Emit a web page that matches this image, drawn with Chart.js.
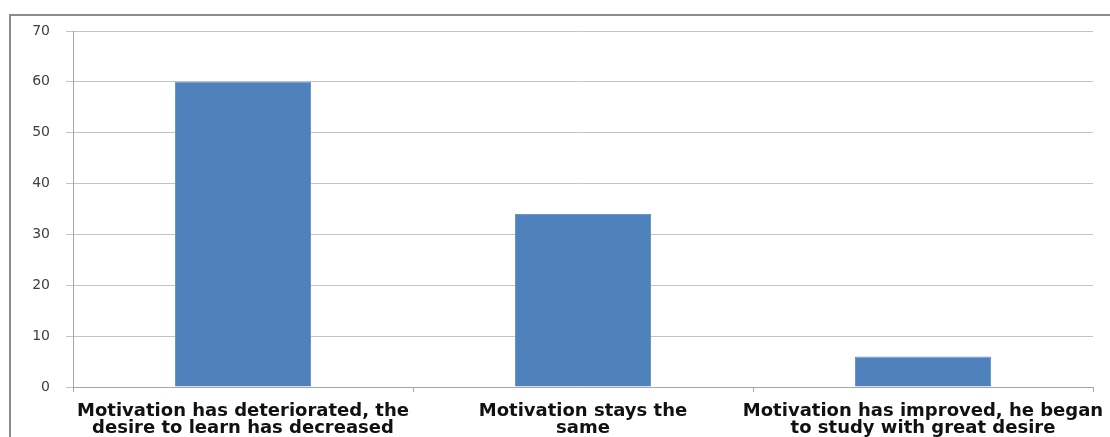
<!DOCTYPE html>
<html>
<head>
<meta charset="utf-8">
<script src="https://cdn.jsdelivr.net/npm/chart.js@4"></script>
<style>
  html, body { margin: 0; padding: 0; background: #fff; }
  #wrap { width: 1110px; height: 437px; position: relative; }
</style>
</head>
<body>
<div id="wrap"><canvas id="motivChart"></canvas></div>
<script>
// Data
const categories = [
    ["Motivation has deteriorated, the", "desire to learn has decreased"],
    ["Motivation stays the", "same"],
    ["Motivation has improved, he began", "to study with great desire"]
];
const values = [60, 34, 6];
const yTicks = [0, 10, 20, 30, 40, 50, 60, 70];

// Outer frame of the chart
const framePlugin = {
    id: "frame",
    beforeDraw(chart){
        const c = chart.ctx;
        c.save();
        c.fillStyle = "#ffffff";
        c.fillRect(0, 0, chart.width, chart.height);
        c.strokeStyle = "#8c8c8c";
        c.lineWidth = 2;
        c.strokeRect(10, 15, chart.width + 20, chart.height + 20);
        c.restore();
    }
};

const ctx = document.getElementById("motivChart");

new Chart(ctx, {
    type: "bar",
    data: {
        labels: categories,
        datasets: [{
            data: values,
            backgroundColor: "#4f81bd",
            borderColor: "#6a95c8",
            borderWidth: 1,
            categoryPercentage: 0.4,
            barPercentage: 1
        }]
    },
    options: {
        responsive: true,
        maintainAspectRatio: false,
        devicePixelRatio: 1,
        animation: false,
        layout: { padding: { top: 31, right: 17, left: 0, bottom: 0 } },
        plugins: {
            legend: { display: false },
            tooltip: { enabled: false }
        },
        scales: {
            x: {
                offset: true,
                grid: {
                    offset: true,
                    drawOnChartArea: false,
                    drawTicks: true,
                    tickLength: 5,
                    color: "#a6a6a6"
                },
                border: { color: "#a6a6a6", width: 1 },
                ticks: {
                    color: "#111111",
                    maxRotation: 0,
                    autoSkip: false,
                    padding: 11,
                    font: { family: "DejaVu Sans", size: 18, weight: "bold", lineHeight: 0.92 }
                },
                afterFit(scale){
                    scale.height = 50;
                    // let the last label run off the edge like the original
                    scale.paddingLeft = 0;
                    scale.paddingRight = 0;
                }
            },
            y: {
                min: 0,
                max: 70,
                afterBuildTicks(scale){
                    scale.ticks = yTicks.map(v => ({ value: v }));
                },
                grid: {
                    color: "#c4c4c4",
                    tickLength: 7,
                    drawTicks: true
                },
                border: { color: "#a6a6a6", width: 1 },
                ticks: {
                    color: "#404040",
                    padding: 16,
                    font: { family: "DejaVu Sans", size: 14 }
                },
                afterFit(scale){ scale.width = 73; }
            }
        }
    },
    plugins: [framePlugin]
});
</script>
</body>
</html>
